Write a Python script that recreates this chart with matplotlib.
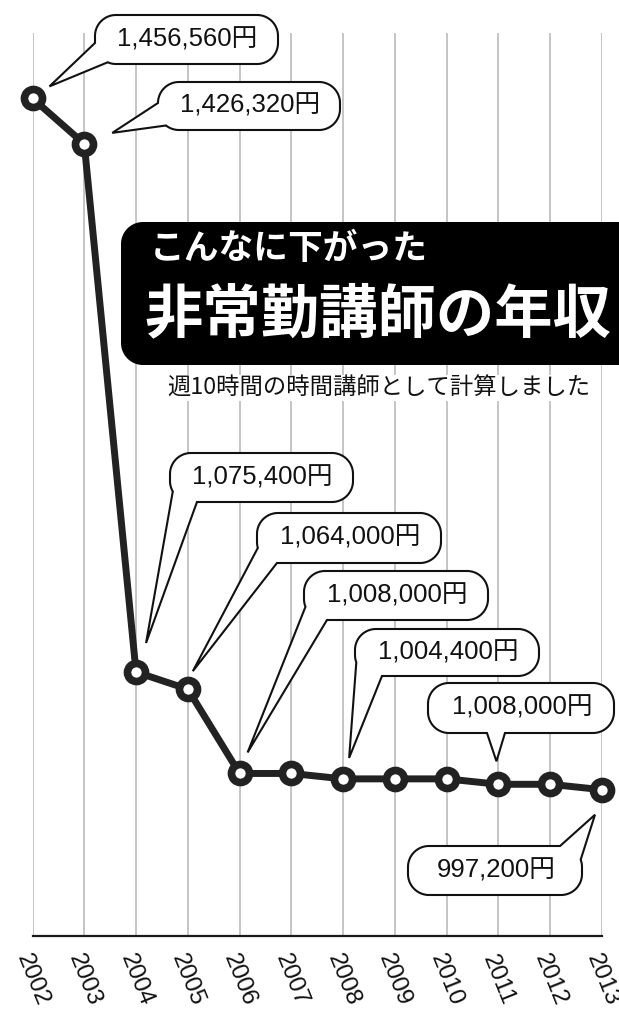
import numpy as np
import matplotlib
matplotlib.use('Agg')
import matplotlib.pyplot as plt
from matplotlib.patches import Polygon
import matplotlib.transforms as mtransforms

# ---------------- data ----------------
years = [2002, 2003, 2004, 2005, 2006, 2007, 2008, 2009, 2010, 2011, 2012, 2013]
income = [1456560, 1426320, 1075400, 1064000, 1008000, 1008000,
          1004400, 1004400, 1004400, 1000800, 1000800, 997200]
year_labels = [str(y) for y in years]

callout_years = [2002, 2003, 2004, 2005, 2006, 2008, 2011, 2013]
callout_texts = ['1,456,560円', '1,426,320円', '1,075,400円', '1,064,000円',
                 '1,008,000円', '1,004,400円', '1,008,000円', '997,200円']

title_small = 'こんなに下がった'
title_big = '非常勤講師の年収'
subtitle = '週10時間の時間講師として計算しました'

# ---------------- layout (pixels) ----------------
W, H = 619, 1009
JP = ['Noto Sans CJK JP', 'DejaVu Sans']
NUM = ['Liberation Sans', 'Noto Sans CJK JP']

# bubble boxes (left, top, right, bottom), tail base points, tip offsets from point
bubble_boxes = [(95, 15, 278, 64), (158, 82, 340, 130), (170, 453, 353, 502),
                (257, 513, 441, 563), (304, 571, 488, 620), (355, 629, 539, 676),
                (428, 683, 614, 733), (408, 846, 582, 895)]
tail_bases = [((95, 43), (107, 64)), ((158, 103), (165, 127)), ((172, 492), (197, 502)),
              ((258, 548), (277, 563)), ((305, 607), (327, 620)), ((357, 662), (382, 676)),
              ((487, 733), (505, 733)), ((560, 846), (580, 860))]
tip_offsets = [(17, -12), (28, -11), (10, -29), (5, -18), (8, -21), (6, -21),
               (-2, -23), (-7, 25)]

fig = plt.figure(figsize=(W / 100, H / 100), dpi=100)
fig.patch.set_facecolor('white')
ax = fig.add_axes([32.5 / W, 1 - 936 / H, (602 - 32.5) / W, (936 - 33) / H])
ax.set_xlim(2002, 2013)
ax.set_ylim(900000, 1500000)
for sp in ['top', 'right', 'left']:
    ax.spines[sp].set_visible(False)
ax.spines['bottom'].set_linewidth(1.6)
ax.spines['bottom'].set_color('#1a1a1a')
ax.set_xticks(years)
ax.set_yticks([])
ax.tick_params(axis='x', length=0, labelbottom=False)
ax.grid(axis='x', color='#b5b5b5', lw=1.1)
ax.set_axisbelow(True)

ax.plot(years, income, color='#222222', lw=5, marker='o', ms=13,
        mfc='white', mec='#222222', mew=5.5, clip_on=False, zorder=3,
        solid_joinstyle='round')

lbl_tr = mtransforms.blended_transform_factory(ax.transData, fig.transFigure)
for yv, lab in zip(years, year_labels):
    ax.text(yv, 1 - 980 / H, lab, transform=lbl_tr, rotation=-68,
            ha='center', va='center', fontsize=17.5, family='Liberation Sans',
            color='#111111', clip_on=False)

# ---------------- overlay in pixel coords ----------------
ov = fig.add_axes([0, 0, 1, 1], zorder=5)
ov.set_xlim(0, W)
ov.set_ylim(H, 0)
ov.axis('off')
ov.patch.set_alpha(0)


def rounded_rect_pts(l, t, r, b, rad, n=40):
    pts = []
    corners = [(r - rad, t + rad, -90, 0), (r - rad, b - rad, 0, 90),
               (l + rad, b - rad, 90, 180), (l + rad, t + rad, 180, 270)]
    for cx, cy, a0, a1 in corners:
        for a in np.linspace(a0, a1, n):
            pts.append((cx + rad * np.cos(np.radians(a)), cy + rad * np.sin(np.radians(a))))
    pts.append(pts[0])
    pts = np.array(pts)
    seg = np.sqrt((np.diff(pts, axis=0) ** 2).sum(1))
    cum = np.concatenate([[0], np.cumsum(seg)])
    s = np.arange(0, cum[-1], 0.5)
    return np.column_stack([np.interp(s, cum, pts[:, 0]), np.interp(s, cum, pts[:, 1])])


def bubble_poly(box, rad, b1, b2, tip):
    pts = rounded_rect_pts(*box, rad)
    n = len(pts)
    i1 = int(np.argmin(((pts - np.array(b1)) ** 2).sum(1)))
    i2 = int(np.argmin(((pts - np.array(b2)) ** 2).sum(1)))
    d = (i2 - i1) % n
    if d > n / 2:
        i1, i2 = i2, i1
        d = n - d
    idx = [(i2 + k) % n for k in range(n - d + 1)]
    return np.vstack([pts[idx], [tip]])


# title box
tb = rounded_rect_pts(121, 222, 640, 365, 22)
ov.add_patch(Polygon(tb, closed=True, facecolor='black', edgecolor='none', zorder=2))
ov.text(150, 249, title_small, color='white', fontsize=25, fontweight='bold',
        family=JP, ha='left', va='center', zorder=3)
ov.text(144, 315, title_big, color='white', fontsize=42, fontweight='bold',
        family=JP, ha='left', va='center', zorder=3)
ov.text(379, 388, subtitle, color='#111111', fontsize=16.8, family=JP,
        ha='center', va='center', zorder=3,
        bbox=dict(facecolor='white', edgecolor='none', pad=1))

# callouts
for yr, txt, box, (b1, b2), off in zip(callout_years, callout_texts, bubble_boxes,
                                       tail_bases, tip_offsets):
    val = income[years.index(yr)]
    px, py = ax.transData.transform((yr, val))
    tip = (px + off[0], (H - py) + off[1])
    poly = bubble_poly(box, 21, b1, b2, tip)
    ov.add_patch(Polygon(poly, closed=True, facecolor='white', edgecolor='#111111',
                         lw=1.5, zorder=4, joinstyle='miter'))
    ov.text((box[0] + box[2]) / 2 + 1, (box[1] + box[3]) / 2, txt, fontsize=18.5,
            family=NUM, ha='center', va='center',
            color='#111111', zorder=5)

fig.savefig('out.png', dpi=100, facecolor='white')
